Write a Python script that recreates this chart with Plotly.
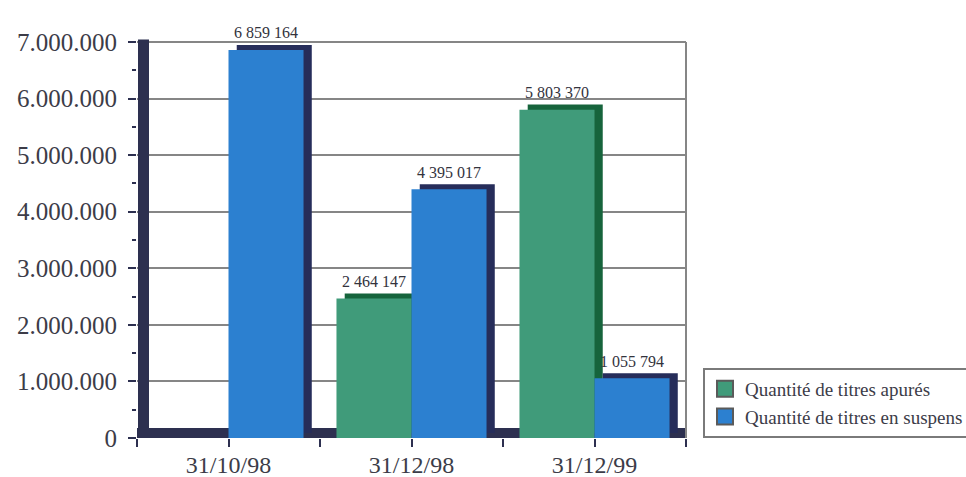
import plotly.graph_objects as go

# Quantities of securities per reporting date
categories = ["31/10/98", "31/12/98", "31/12/99"]
titres_apures = [None, 2464147, 5803370]
titres_suspens = [6859164, 4395017, 1055794]
series_names = ["Quantité de titres apurés", "Quantité de titres en suspens"]
y_ticks = [0, 1000000, 2000000, 3000000, 4000000, 5000000, 6000000, 7000000]

# Styling
FONT = "Liberation Serif, Times New Roman, serif"
TEXT = "#3c3c48"
DARK = "#2d3050"
GREEN, GREEN_SIDE = "#409b7a", "#16643c"
BLUE, BLUE_SIDE = "#2c80d0", "#262d5a"
GRID = "#868686"

BAR_W = 0.41          # bar width in category units
DEPTH_X = 0.045       # pseudo-3D depth, horizontal (category units)
DEPTH_Y = 90000       # pseudo-3D depth, vertical (value units)
LABEL_SHIFT = 17      # px above bar top

pos = list(range(len(categories)))


def fmt_space(v):
    return f"{v:,}".replace(",", " ")


fig = go.Figure()

series = [
    (series_names[0], titres_apures, GREEN, GREEN_SIDE, -BAR_W),
    (series_names[1], titres_suspens, BLUE, BLUE_SIDE, 0.0),
]

for name, vals, face, side, off in series:
    # depth face (back, slightly up and to the right)
    fig.add_trace(go.Bar(
        x=pos, y=vals, base=DEPTH_Y, width=BAR_W, offset=off + DEPTH_X,
        marker=dict(color=side, line=dict(width=0)),
        showlegend=False, hoverinfo="skip",
    ))
    # front face
    fig.add_trace(go.Bar(
        x=pos, y=vals, width=BAR_W, offset=off, name=name,
        marker=dict(color=face, line=dict(width=0)),
        showlegend=False,
    ))

# legend entries with large square swatches
for name, _, face, _, _ in series:
    fig.add_trace(go.Scatter(
        x=[None], y=[None], mode="markers", name=name,
        marker=dict(symbol="square", size=18, color=face,
                    line=dict(width=2, color="#5a5a5a")),
    ))

# value labels above each bar
for name, vals, face, side, off in series:
    for p, v in zip(pos, vals):
        if v is None:
            continue
        fig.add_annotation(
            x=p + off + BAR_W / 2, y=v, xref="x", yref="y",
            text=fmt_space(v), showarrow=False, yshift=LABEL_SHIFT,
            font=dict(family=FONT, size=16, color="#33333d"),
        )

shapes = [
    # floor
    dict(type="rect", xref="x domain", yref="y domain", x0=0, x1=1,
         y0=0, y1=10 / 396, fillcolor=DARK, line=dict(width=0), layer="below"),
    # right edge
    dict(type="line", xref="x domain", yref="y domain", x0=1, x1=1,
         y0=0, y1=1, line=dict(color=GRID, width=2), layer="below"),
    # top edge
    dict(type="line", xref="x domain", yref="y domain", x0=0, x1=1,
         y0=1, y1=1, line=dict(color=GRID, width=2), layer="below"),
    # left wall
    dict(type="rect", xref="x domain", yref="y domain", x0=1 / 549, x1=12 / 549,
         y0=0, y1=1.006, fillcolor=DARK, line=dict(width=0), layer="above"),
]

fig.update_layout(
    width=966, height=477,
    margin=dict(l=137, r=280, t=42, b=39, autoexpand=False),
    paper_bgcolor="white", plot_bgcolor="white",
    separators=",.",
    barmode="overlay",
    shapes=shapes,
    font=dict(family=FONT, color=TEXT),
    legend=dict(
        x=(703 - 137) / 549, xanchor="left",
        y=(438 - 368) / 396, yanchor="top",
        bgcolor="white", bordercolor="#7a7a7a", borderwidth=2,
        font=dict(family=FONT, size=19, color=TEXT),
        itemsizing="trace",
    ),
    xaxis=dict(
        range=[-0.5, len(categories) - 0.5],
        tickmode="array", tickvals=pos, ticktext=categories,
        ticks="outside", ticklen=8, tickwidth=2, tickcolor=DARK,
        minor=dict(tickmode="array", tickvals=[p - 0.5 for p in pos] + [pos[-1] + 0.5],
                   ticks="outside", ticklen=8, tickwidth=2, tickcolor=DARK),
        showgrid=False, zeroline=False, showline=False,
        ticklabelstandoff=-3,
        tickfont=dict(family=FONT, size=24, color=TEXT),
    ),
    yaxis=dict(
        range=[0, 7000000],
        tickmode="array", tickvals=y_ticks, tickformat=",d",
        ticks="outside", ticklen=8, tickwidth=2, tickcolor=DARK,
        minor=dict(dtick=500000, ticks="outside", ticklen=4, tickwidth=2,
                   tickcolor=DARK, showgrid=False),
        showgrid=True, gridcolor=GRID, gridwidth=2,
        zeroline=False, showline=False,
        ticklabelstandoff=6,
        tickfont=dict(family=FONT, size=25, color=TEXT),
    ),
)

fig.write_html("out.html")
